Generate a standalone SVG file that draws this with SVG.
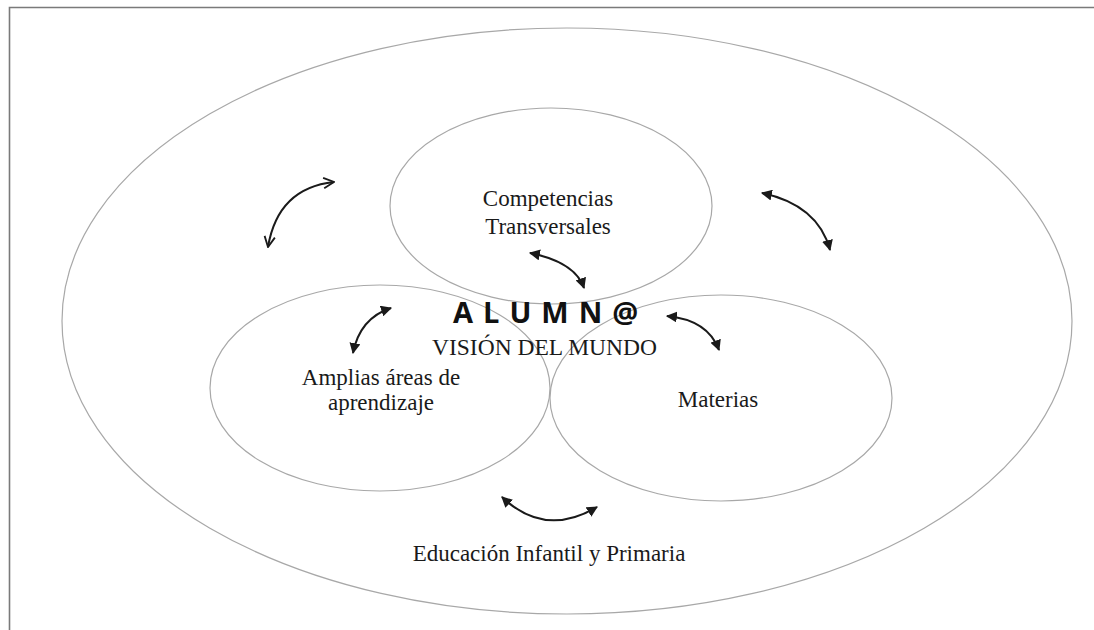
<svg xmlns="http://www.w3.org/2000/svg" width="1094" height="630" viewBox="0 0 1094 630">
<style>
.ring{fill:none;stroke:#a8a8a8;stroke-width:1.2}
.frame{fill:none;stroke:#7a7a7a;stroke-width:1.6}
.lbl{font-family:"Liberation Serif","Times New Roman",serif;font-size:23px;fill:#1a1a1a;text-anchor:middle}
.arr{fill:none;stroke:#1a1a1a;stroke-width:2}
</style>
<defs>
<marker id="tri" viewBox="0 0 10 10" refX="9" refY="5" markerWidth="5.5" markerHeight="5.5" orient="auto-start-reverse" markerUnits="strokeWidth">
<path d="M0,0 L10,5 L0,10 z" fill="#1a1a1a"/>
</marker>
<marker id="chev" viewBox="0 0 10 10" refX="9" refY="5" markerWidth="6.5" markerHeight="6.5" orient="auto-start-reverse" markerUnits="strokeWidth">
<path d="M1,1 L9,5 L1,9" fill="none" stroke="#1a1a1a" stroke-width="1.4"/>
</marker>
</defs>
<rect width="1094" height="630" fill="#ffffff"/>
<path class="frame" d="M9.5,630 V7.5 H1094"/>
<g id="outer">
<ellipse class="ring" cx="567" cy="321" rx="505" ry="293"/>
<text class="lbl" x="549" y="561">Educación Infantil y Primaria</text>
</g>
<g id="competencias">
<ellipse class="ring" cx="551" cy="206" rx="161" ry="98"/>
<text class="lbl" x="548" y="206">Competencias</text>
<text class="lbl" x="548" y="234">Transversales</text>
</g>
<g id="amplias">
<ellipse class="ring" cx="380" cy="388" rx="170" ry="103"/>
<text class="lbl" x="381" y="385">Amplias áreas de</text>
<text class="lbl" x="381" y="410">aprendizaje</text>
</g>
<g id="materias">
<ellipse class="ring" cx="721" cy="398" rx="171" ry="103"/>
<text class="lbl" x="718" y="407">Materias</text>
</g>
<g id="alumno">
<text x="453" y="323" font-family="'Open Sans','DejaVu Sans',sans-serif" font-weight="bold" font-size="29" letter-spacing="10" fill="#111">ALUMN@</text>
<text x="544.5" y="355" font-family="'Liberation Serif','Times New Roman',serif" font-size="23.5" fill="#1a1a1a" text-anchor="middle">VISIÓN DEL MUNDO</text>
</g>
<g id="connectors">
<path class="arr" d="M334,182 Q278,188 268,247" marker-start="url(#chev)" marker-end="url(#chev)"/>
<path class="arr" d="M762,193 Q818,205 830,250" marker-start="url(#tri)" marker-end="url(#tri)"/>
<path class="arr" d="M530,253 Q575,262 584,288" marker-start="url(#tri)" marker-end="url(#tri)"/>
<path class="arr" d="M391,308 Q360,318 353,353" marker-start="url(#tri)" marker-end="url(#tri)"/>
<path class="arr" d="M667,316 Q708,320 719,350" marker-start="url(#tri)" marker-end="url(#tri)"/>
<path class="arr" d="M502,497 Q545,538 597,507" marker-start="url(#tri)" marker-end="url(#tri)"/>
</g>
</svg>
